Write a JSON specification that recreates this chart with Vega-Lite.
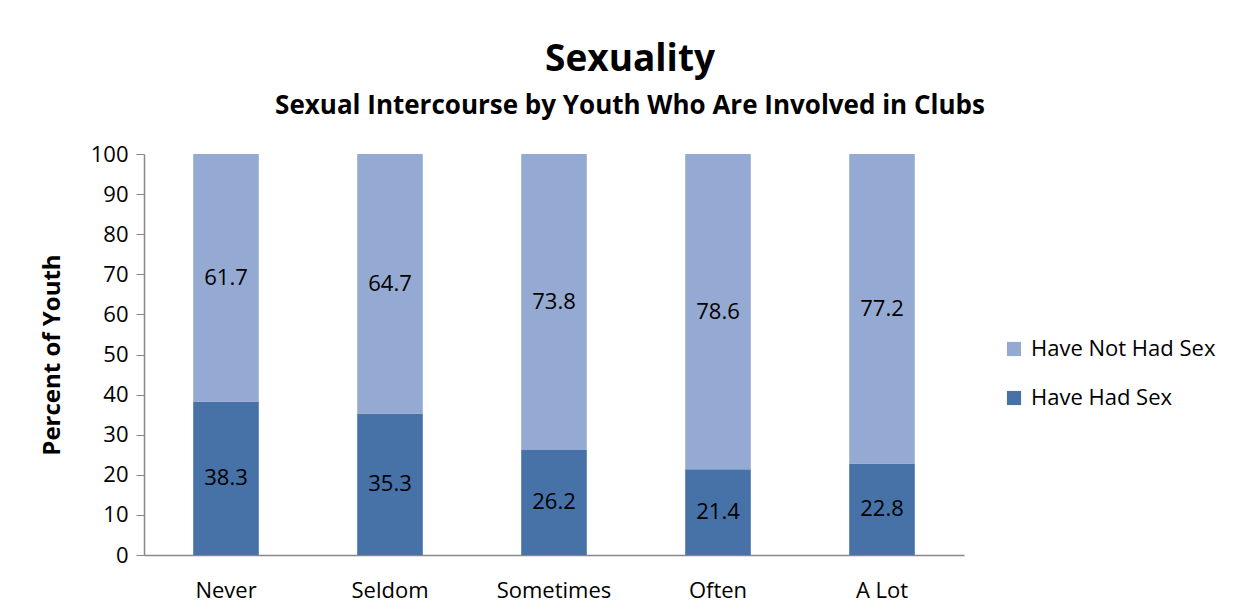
{
  "$schema": "https://vega.github.io/schema/vega-lite/v6.json",
  "width": 820,
  "height": 401,
  "autosize": {"type": "none"},
  "padding": {"left": 144, "top": 154, "right": 285, "bottom": 60},
  "background": "white",
  "title": {
    "text": "Sexuality",
    "subtitle": "Sexual Intercourse by Youth Who Are Involved in Clubs",
    "anchor": "middle",
    "dx": 76,
    "offset": 23,
    "font": "Open Sans",
    "fontSize": 37,
    "fontWeight": "bold",
    "color": "black",
    "subtitleFont": "Open Sans",
    "subtitleFontSize": 26,
    "subtitleFontWeight": "bold",
    "subtitleColor": "black",
    "subtitlePadding": 14
  },
  "data": {
    "values": [
      {"club": "Never", "status": "Have Had Sex", "value": 38.3, "order": 1},
      {"club": "Never", "status": "Have Not Had Sex", "value": 61.7, "order": 2},
      {"club": "Seldom", "status": "Have Had Sex", "value": 35.3, "order": 1},
      {"club": "Seldom", "status": "Have Not Had Sex", "value": 64.7, "order": 2},
      {"club": "Sometimes", "status": "Have Had Sex", "value": 26.2, "order": 1},
      {"club": "Sometimes", "status": "Have Not Had Sex", "value": 73.8, "order": 2},
      {"club": "Often", "status": "Have Had Sex", "value": 21.4, "order": 1},
      {"club": "Often", "status": "Have Not Had Sex", "value": 78.6, "order": 2},
      {"club": "A Lot", "status": "Have Had Sex", "value": 22.8, "order": 1},
      {"club": "A Lot", "status": "Have Not Had Sex", "value": 77.2, "order": 2}
    ]
  },
  "transform": [
    {"stack": "value", "groupby": ["club"], "sort": [{"field": "order"}], "as": ["v0", "v1"]}
  ],
  "encoding": {
    "x": {
      "field": "club",
      "type": "nominal",
      "sort": ["Never", "Seldom", "Sometimes", "Often", "A Lot"],
      "scale": {"paddingInner": 0.6, "paddingOuter": 0.3},
      "axis": {
        "title": null,
        "labelAngle": 0,
        "labelFont": "Open Sans",
        "labelFontSize": 22,
        "labelColor": "black",
        "labelPadding": 25,
        "ticks": false,
        "domainColor": "#888888",
        "domainWidth": 1.5
      }
    }
  },
  "layer": [
    {
      "mark": {"type": "bar"},
      "encoding": {
        "y": {
          "field": "v0",
          "type": "quantitative",
          "scale": {"domain": [0, 100]},
          "axis": {
            "title": "Percent of Youth",
            "titleFont": "Open Sans",
            "titleFontSize": 24,
            "titleFontWeight": "bold",
            "titleColor": "black",
            "titlePadding": 26,
            "values": [0, 10, 20, 30, 40, 50, 60, 70, 80, 90, 100],
            "labelFont": "Open Sans",
            "labelFontSize": 22,
            "labelColor": "black",
            "labelPadding": 8,
            "tickSize": 8,
            "tickColor": "#888888",
            "domainColor": "#888888",
            "domainWidth": 1.5,
            "grid": false
          }
        },
        "y2": {"field": "v1"},
        "color": {
          "field": "status",
          "type": "nominal",
          "scale": {
            "domain": ["Have Not Had Sex", "Have Had Sex"],
            "range": ["#95AAD2", "#4672A8"]
          },
          "legend": {
            "title": null,
            "orient": "none",
            "legendX": 859,
            "legendY": 184,
            "symbolType": "square",
            "symbolSize": 200,
            "symbolStrokeWidth": 0,
            "labelFont": "Open Sans",
            "labelFontSize": 22,
            "labelColor": "black",
            "labelOffset": 6,
            "labelLimit": 300,
            "rowPadding": 27
          }
        }
      }
    },
    {
      "transform": [
        {"fold": ["v0", "v1"], "as": ["edge", "pos"]}
      ],
      "mark": {"type": "text", "font": "Open Sans", "fontSize": 22, "color": "black", "baseline": "middle"},
      "encoding": {
        "y": {"field": "pos", "aggregate": "mean", "type": "quantitative"},
        "detail": {"field": "status", "type": "nominal"},
        "text": {"field": "value", "type": "quantitative", "format": ".1f"}
      }
    }
  ],
  "config": {"view": {"stroke": null}}
}
